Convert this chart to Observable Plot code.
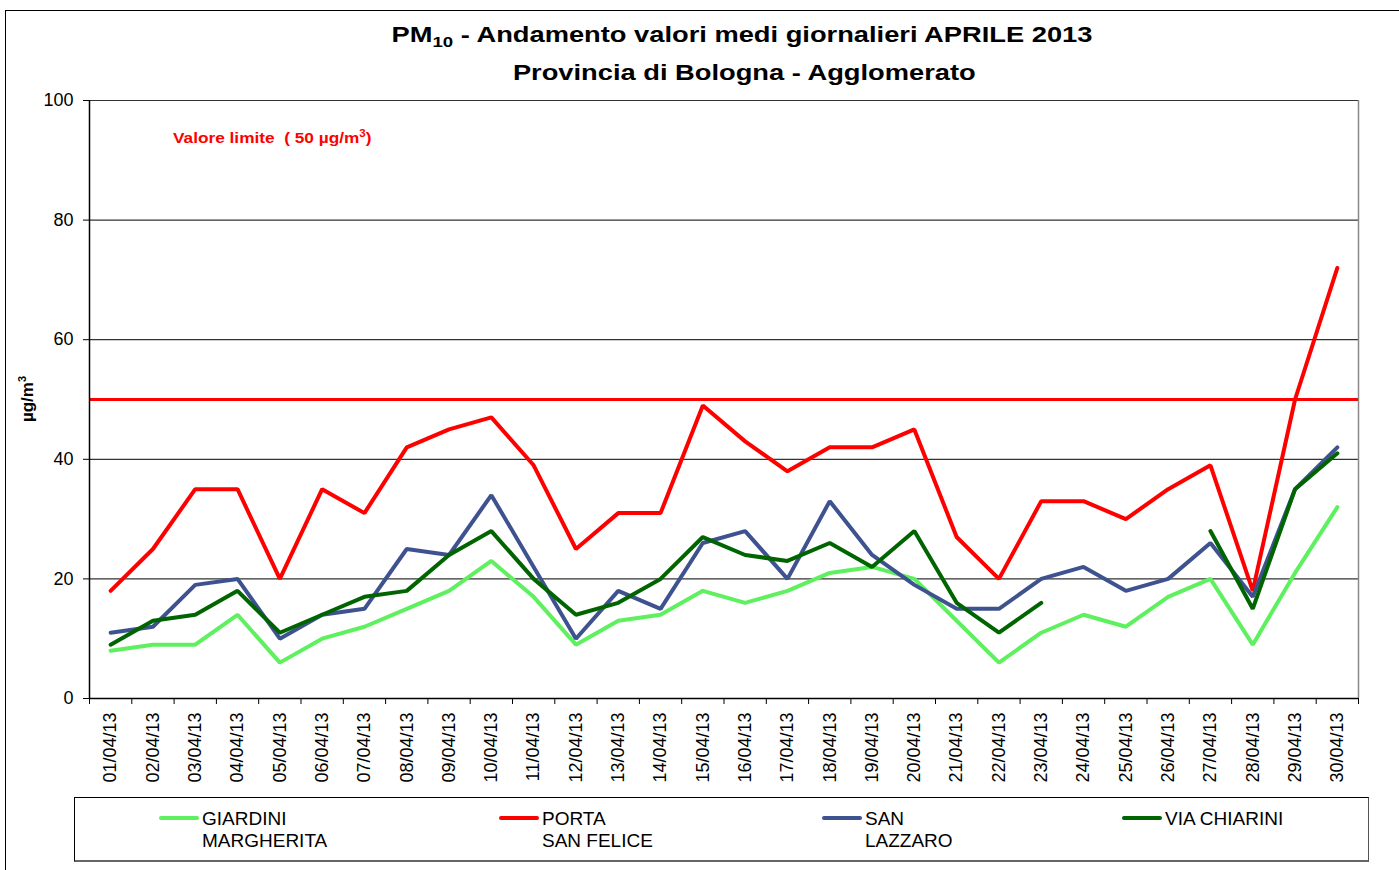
<!DOCTYPE html>
<html>
<head>
<meta charset="utf-8">
<script src="https://cdn.jsdelivr.net/npm/d3@7"></script>
<script src="https://cdn.jsdelivr.net/npm/@observablehq/plot@0.6"></script>
<style>
  html, body { margin: 0; padding: 0; width: 1399px; height: 870px; overflow: hidden; background: #fff; }
  body { position: relative; font-family: "Liberation Sans", Arial, sans-serif; }
  .abs { position: absolute; }
  #frame { left: 5px; top: 10px; width: 1400px; height: 870px; border: 1px solid #000; box-sizing: border-box; pointer-events: none; }
  .title { left: 0; width: 1484px; text-align: center; font-weight: bold; font-size: 22px; line-height: 22px; color: #000; transform: scaleX(1.24); transform-origin: 742px 0; white-space: nowrap; }
  .title sub { font-size: 15px; vertical-align: -5px; line-height: 0; }
  #limitNote { left: 173px; top: 130px; color: #ff0000; font-weight: bold; font-size: 15px; line-height: 15px; white-space: nowrap; transform: scaleX(1.15); transform-origin: 0 0; }
  #limitNote sup { font-size: 10px; vertical-align: 6px; line-height: 0; }
  #ylabel { left: -22px; top: 390px; width: 100px; text-align: center; font-weight: bold; font-size: 17px; line-height: 18px; transform: rotate(-90deg); transform-origin: 50px 9px; white-space: nowrap; }
  #ylabel sup { font-size: 11px; vertical-align: 7px; line-height: 0; }
  #legend { left: 74px; top: 797px; width: 1295px; height: 65px; border: 1px solid #000; border-right-color: #555; border-bottom: 2px solid #666; box-sizing: border-box; }
  .legItem { position: absolute; top: 10px; font-size: 19px; line-height: 22px; white-space: nowrap; color: #000; }
  .legSwatch { position: absolute; height: 4px; border-radius: 2px; width: 40px; top: 18px; }
  #chart { left: 0; top: 90px; }
  #chart svg { background: transparent; }
</style>
</head>
<body>
<div id="chart" class="abs"></div>
<div class="abs title" style="top:24px">PM<sub>10</sub> - Andamento valori medi giornalieri APRILE 2013</div>
<div class="abs title" style="top:62px; transform-origin: 745px 0; left: 3px;">Provincia di Bologna - Agglomerato</div>
<div id="limitNote" class="abs">Valore limite &nbsp;( 50 µg/m<sup>3</sup>)</div>
<div id="ylabel" class="abs">µg/m<sup>3</sup></div>
<div id="legend" class="abs"></div>
<div id="frame" class="abs"></div>
<script>
// ---- data ----
const days = ["01/04/13","02/04/13","03/04/13","04/04/13","05/04/13","06/04/13","07/04/13","08/04/13","09/04/13","10/04/13",
              "11/04/13","12/04/13","13/04/13","14/04/13","15/04/13","16/04/13","17/04/13","18/04/13","19/04/13","20/04/13",
              "21/04/13","22/04/13","23/04/13","24/04/13","25/04/13","26/04/13","27/04/13","28/04/13","29/04/13","30/04/13"];
const giardiniMargherita = [8,9,9,14,6,10,12,15,18,23,17,9,13,14,18,16,18,21,22,20,13,6,11,14,12,17,20,9,21,32];
const portaSanFelice     = [18,25,35,35,20,35,31,42,45,47,39,25,31,31,49,43,38,42,42,45,27,20,33,33,30,35,39,18,50,72];
const sanLazzaro         = [11,12,19,20,10,14,15,25,24,34,22,10,18,15,26,28,20,33,24,19,15,15,20,22,18,20,26,17,35,42];
const viaChiarini        = [9,13,14,18,11,14,17,18,24,28,20,14,16,20,27,24,23,26,22,28,16,11,16,null,null,null,28,15,35,41];
const seriesNames  = ["GIARDINI MARGHERITA", "PORTA SAN FELICE", "SAN LAZZARO", "VIA CHIARINI"];
const legendLabels = [["GIARDINI","MARGHERITA"], ["PORTA","SAN FELICE"], ["SAN","LAZZARO"], ["VIA CHIARINI"]];
const seriesColors = ["#5ef05e", "#ff0000", "#3f5290", "#006400"];
const yTicks = [0, 20, 40, 60, 80, 100];
const limitValue = 50;

const seriesValues = [giardiniMargherita, portaSanFelice, sanLazzaro, viaChiarini];
const rows = [];
seriesNames.forEach((name, s) => {
  seriesValues[s].forEach((v, i) => rows.push({series: name, day: i + 1, value: v == null ? NaN : v}));
});
const dayIndex = days.map((d, i) => i + 1);
const boundaries = d3.range(0, days.length + 1).map(i => i + 0.5);

const font = '"Liberation Sans", Arial, sans-serif';
const chart = Plot.plot({
  width: 1399,
  height: 705,
  marginTop: 10,
  marginLeft: 89,
  marginRight: 41,
  marginBottom: 97,
  style: {fontFamily: font, background: "transparent", color: "#000"},
  x: {type: "linear", domain: [0.5, days.length + 0.5], axis: null},
  y: {domain: [0, 100], axis: null},
  color: {domain: seriesNames, range: seriesColors},
  marks: [
    Plot.gridY(yTicks.filter(t => t > 0), {stroke: "#333", strokeOpacity: 1, strokeWidth: 1.2}),
    Plot.ruleX([days.length + 0.5], {stroke: "#888", strokeWidth: 1.5}),
    Plot.axisY({ticks: yTicks, tickSize: 6, tickPadding: 10, fontSize: 18, label: null, tickFormat: d => String(d)}),
    Plot.axisX({ticks: boundaries, tickSize: 6, tickFormat: () => "", label: null}),
    Plot.axisX({ticks: dayIndex, tickSize: 0, tickPadding: 14, tickRotate: -90, fontSize: 18, label: null,
                tickFormat: i => days[Math.round(i) - 1]}),
    Plot.ruleY([limitValue], {stroke: "#ff0000", strokeWidth: 3}),
    Plot.line(rows, {x: "day", y: "value", z: "series", stroke: "series", strokeWidth: 4,
                     strokeLinejoin: "miter", strokeLinecap: "round"}),
    Plot.ruleX([0.5], {stroke: "#000", strokeWidth: 1.5}),
    Plot.ruleY([0], {stroke: "#000", strokeWidth: 1.5})
  ]
});
document.getElementById("chart").appendChild(chart);

// ---- legend (HTML, below the SVG) ----
const legend = document.getElementById("legend");
const legendX = [84, 424, 747, 1047]; // swatch left within box
seriesNames.forEach((name, s) => {
  const sw = document.createElement("div");
  sw.className = "legSwatch";
  sw.style.left = legendX[s] + "px";
  sw.style.background = seriesColors[s];
  legend.appendChild(sw);
  const lab = document.createElement("div");
  lab.className = "legItem";
  lab.style.left = (legendX[s] + 43) + "px";
  lab.innerHTML = legendLabels[s].join("<br>");
  legend.appendChild(lab);
});
</script>
</body>
</html>
